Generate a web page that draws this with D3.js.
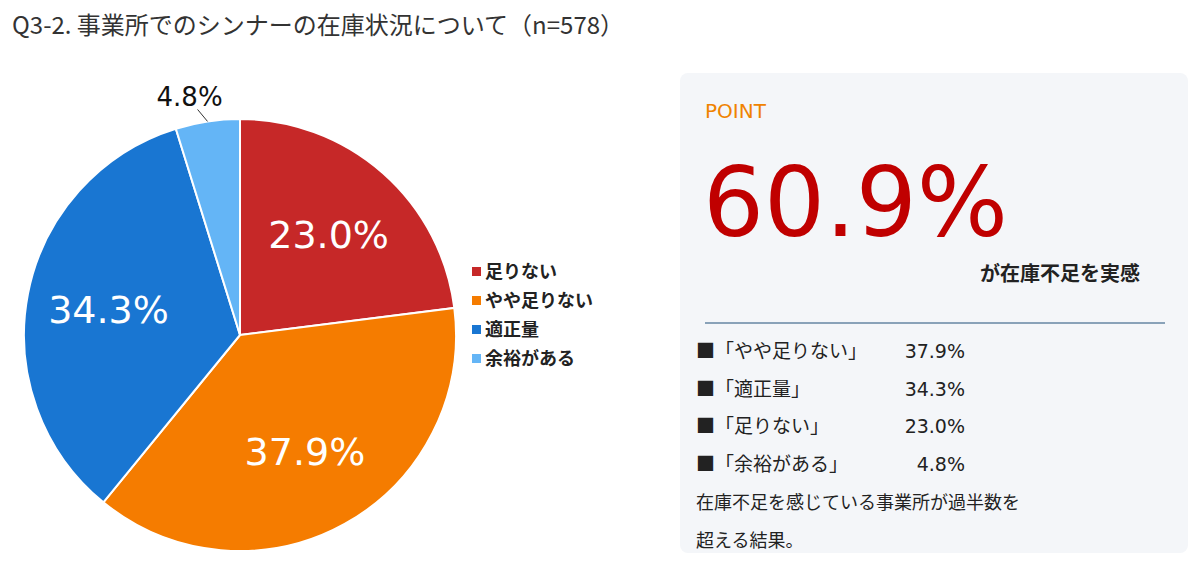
<!DOCTYPE html>
<html><head><meta charset="utf-8">
<script src="https://cdn.jsdelivr.net/npm/d3@7"></script>
<style>body{margin:0;background:#fff;font-family:"Noto Sans CJK JP","Noto Sans",sans-serif}</style>
</head><body>
<script>
var categories = ['足りない', 'やや足りない', '適正量', '余裕がある'];
var values = [23.0, 37.9, 34.3, 4.8];
var colors = ['#c62828', '#f57c00', '#1976d2', '#64b5f6'];
var listOrder = [['「やや足りない」', '37.9%'], ['「適正量」', '34.3%'], ['「足りない」', '23.0%'], ['「余裕がある」', '4.8%']];

var svg = d3.select(document.body).append('svg').attr('width', 1200).attr('height', 563);

svg.append('text').attr('x', 12).attr('y', 34).attr('font-size', 24).attr('fill', '#333')
  .text('Q3-2. 事業所でのシンナーの在庫状況について（n=578）');

var cx = 240, cy = 335, r = 216;
var pie = d3.pie().sort(null).value(function(d) { return d; });
var arcs = pie(values);
var arc = d3.arc().innerRadius(0).outerRadius(r);
var g = svg.append('g').attr('transform', 'translate(' + cx + ',' + cy + ')');
g.selectAll('path').data(arcs).enter().append('path')
  .attr('d', arc).attr('fill', function(d, i) { return colors[i]; })
  .attr('stroke', '#fff').attr('stroke-width', 2);

var labelArc = d3.arc().innerRadius(r * 0.62).outerRadius(r * 0.62);
g.selectAll('text.in').data(arcs.slice(0, 3)).enter().append('text')
  .attr('transform', function(d) { return 'translate(' + labelArc.centroid(d) + ')'; })
  .attr('text-anchor', 'middle').attr('dy', '0.35em')
  .attr('font-family', 'Verdana, "DejaVu Sans", sans-serif')
  .attr('font-size', 38).attr('fill', '#fff')
  .text(function(d) { return d.data.toFixed(1) + '%'; });

// small slice outside label
var small = arcs[3];
var mid = (small.startAngle + small.endAngle) / 2;
var p0 = [Math.sin(mid) * r, -Math.cos(mid) * r];
g.append('path').attr('d', 'M' + p0[0] + ',' + p0[1] + 'L' + (p0[0] - 10) + ',' + (p0[1] - 12))
  .attr('stroke', '#333').attr('fill', 'none');
g.append('text').attr('x', p0[0] - 18).attr('y', p0[1] - 15).attr('text-anchor', 'middle')
  .attr('font-family', 'Verdana, "DejaVu Sans", sans-serif').attr('font-size', 26).attr('fill', '#111')
  .text(small.data.toFixed(1) + '%');

var legend = svg.append('g').attr('transform', 'translate(472,272)');
categories.forEach(function(c, i) {
  var y = i * 29;
  legend.append('rect').attr('x', 0).attr('y', y - 5).attr('width', 9).attr('height', 9).attr('fill', colors[i]);
  legend.append('text').attr('x', 13).attr('y', y + 6).attr('font-size', 18).attr('font-weight', 'bold')
    .attr('fill', '#222').text(c);
});

// point panel
var p = svg.append('g');
p.append('rect').attr('x', 680).attr('y', 73).attr('width', 508).attr('height', 480).attr('rx', 8).attr('fill', '#f4f6f9');
p.append('text').attr('x', 705).attr('y', 118).attr('font-family', 'Verdana, "DejaVu Sans", sans-serif')
  .attr('font-size', 20).attr('fill', '#f08300').text('POINT');
p.append('text').attr('x', 703).attr('y', 236).attr('font-family', 'Verdana, "DejaVu Sans", sans-serif')
  .attr('font-size', 96).attr('fill', '#c00000').text('60.9%');
p.append('text').attr('x', 1140).attr('y', 281).attr('text-anchor', 'end').attr('font-size', 20)
  .attr('font-weight', 'bold').attr('fill', '#222').text('が在庫不足を実感');
p.append('line').attr('x1', 705).attr('x2', 1165).attr('y1', 323).attr('y2', 323).attr('stroke', '#1f4e79');
listOrder.forEach(function(d, i) {
  var y = 358 + i * 37.7;
  p.append('text').attr('x', 696).attr('y', y).attr('font-size', 19).attr('fill', '#222').text('■' + d[0]);
  p.append('text').attr('x', 965).attr('y', y).attr('text-anchor', 'end').attr('font-size', 19)
    .attr('font-family', 'Verdana, "DejaVu Sans", sans-serif').attr('fill', '#222').text(d[1]);
});
p.append('text').attr('x', 696).attr('y', 509).attr('font-size', 18).attr('fill', '#222').text('在庫不足を感じている事業所が過半数を');
p.append('text').attr('x', 696).attr('y', 547).attr('font-size', 18).attr('fill', '#222').text('超える結果。');
</script>
</body></html>
